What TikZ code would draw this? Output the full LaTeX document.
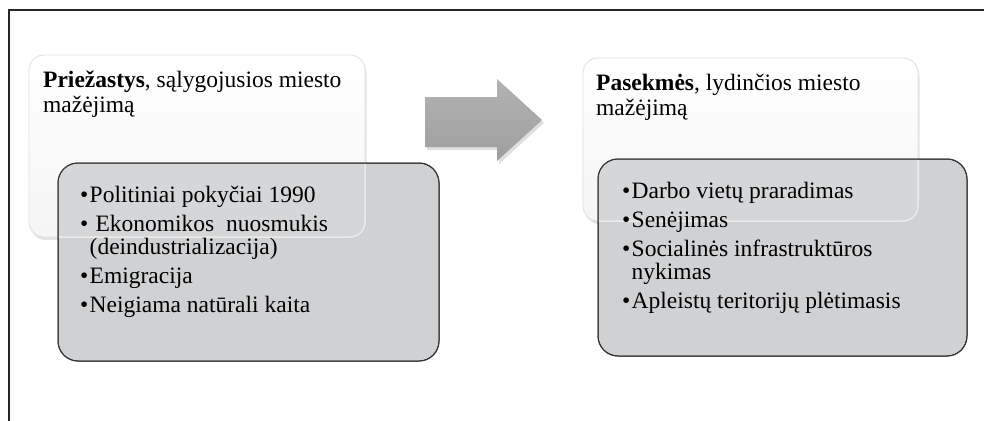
\documentclass[tikz,border=0pt]{standalone}
\usepackage{fontspec}
\setmainfont{Liberation Serif}
\usetikzlibrary{shadows}

\definecolor{boxgray}{HTML}{D0D1D3}
\definecolor{veilgray}{HTML}{D5D6D8}
\definecolor{framegray}{HTML}{262626}

\tikzset{
  topbox/.style={rounded corners=15pt, top color=white, bottom color=black!4,
    draw=black!12, line width=0.8pt,
    drop shadow={shadow xshift=1.5pt, shadow yshift=-3pt, opacity=0.22}},
  listbox/.style={rounded corners=20pt, fill=boxgray, draw=black!80, line width=1pt},
  veil/.style={rounded corners=15pt, fill=veilgray, draw=black!8, line width=1.5pt},
  boxtext/.style={anchor=base west, inner sep=0pt, align=left, font=\fontsize{23.5}{23}\selectfont},
}
\newcommand{\bul}{\makebox[9.5pt][l]{•}}

\begin{document}
\begin{tikzpicture}[x=1pt,y=-1pt]
    \useasboundingbox (0,0) rectangle (984,420);
    \draw[framegray, line width=1.5pt] (9,430) -- (9,10) -- (995,10);

    % causes
    \path[topbox] (29,55) rectangle (365,237);
    \draw[listbox] (58,163) rectangle (439,361);
    \begin{scope}
      \clip[rounded corners=20pt] (58.5,163.5) rectangle (438.5,360.5);
      \path[veil] (29,55) rectangle (365,237);
    \end{scope}
    \draw[black!80, line width=1pt, rounded corners=20pt] (58,163) rectangle (439,361);
    \node[boxtext] (causehead) at (43,112) {\textbf{Priežastys}, sąlygojusios miesto\\[2pt] mažėjimą};
    \node[boxtext] (causelist) at (80,312) {\bul Politiniai pokyčiai 1990\\[6pt]
      \bul\ Ekonomikos\ \ nuosmukis\\
      \hspace*{9.5pt}(deindustrializacija)\\[6pt]
      \bul Emigracija\\[6pt]
      \bul Neigiama natūrali kaita};

    % arrow
    \path[top color=black!30, bottom color=black!38,
      drop shadow={shadow xshift=2pt, shadow yshift=-3pt, opacity=0.25}]
      (425,97) -- (497,97) -- (497,79) -- (542,120) -- (497,161) -- (497,147) -- (425,147) -- cycle;

    % consequences
    \path[topbox] (583,58) rectangle (918,221);
    \draw[listbox] (598,159) rectangle (967,356);
    \begin{scope}
      \clip[rounded corners=20pt] (598.5,159.5) rectangle (966.5,355.5);
      \path[veil] (583,58) rectangle (918,221);
    \end{scope}
    \draw[black!80, line width=1pt, rounded corners=20pt] (598,159) rectangle (967,356);
    \node[boxtext] (effecthead) at (596,115) {\textbf{Pasekmės}, lydinčios miesto\\[2pt] mažėjimą};
    \node[boxtext] (effectlist) at (622,308) {\bul Darbo vietų praradimas\\[6pt]
      \bul Senėjimas\\[6pt]
      \bul Socialinės infrastruktūros\\
      \hspace*{9.5pt}nykimas\\[6pt]
      \bul Apleistų teritorijų plėtimasis};
\end{tikzpicture}
\end{document}
